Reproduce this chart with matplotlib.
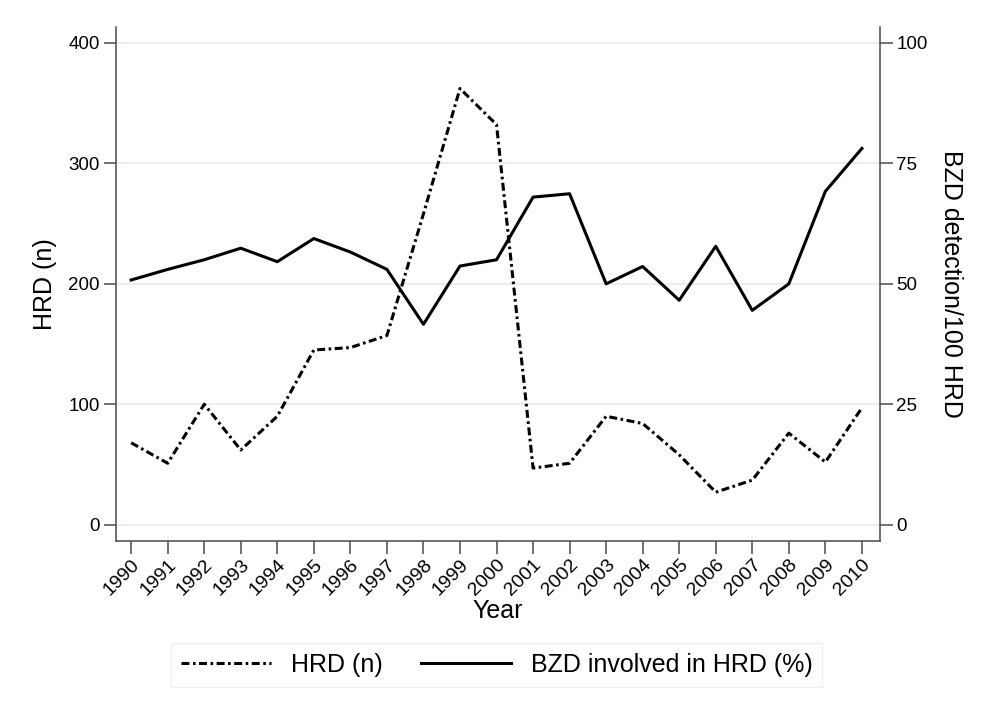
import matplotlib.pyplot as plt

plt.rcParams['font.family'] = ['Liberation Sans', 'DejaVu Sans']

years = list(range(1990, 2011))
hrd_n = [68, 51, 100, 62, 90, 145, 147, 157, 258, 362, 332, 47, 51, 90, 84, 58, 27, 37, 76, 52, 97]
bzd_pct = [50.8, 53.0, 55.0, 57.4, 54.6, 59.4, 56.6, 53.0, 41.6, 53.7, 55.0, 68.0, 68.7, 50.0, 53.6, 46.6, 57.8, 44.5, 50.0, 69.2, 78.1]

grid_c = '#e8eff2'
spine_c = '#4a4a4a'

fig = plt.figure(figsize=(9.93, 7.21), dpi=100)
ax = fig.add_axes([0.117, 0.25, 0.769, 0.7125])
ax2 = ax.twinx()

ln1, = ax.plot(years, hrd_n, color='black', lw=2.2, linestyle=(0, (2.6, 1.15, 0.85, 1.15)), label='HRD (n)')
ln2, = ax2.plot(years, bzd_pct, color='black', lw=2.2, linestyle='-', label='BZD involved in HRD (%)')

ax.set_xlim(1989.59, 2010.49)
ax.set_ylim(-13.3, 413)
ax2.set_ylim(-3.32, 103.3)
ax.set_yticks([0, 100, 200, 300, 400])
ax2.set_yticks([0, 25, 50, 75, 100])
ax.set_xticks(years)
ax.set_xticklabels([str(y) for y in years], rotation=45, ha='right', rotation_mode='anchor')

for y in [0, 100, 200, 300, 400]:
    ax.axhline(y, color=grid_c, lw=1.5, zorder=0)

for a in (ax, ax2):
    for s in a.spines.values():
        s.set_color(spine_c)
        s.set_linewidth(1.1)
    a.spines['top'].set_visible(False)
    a.tick_params(length=9, width=1.1, color=spine_c, labelsize=13.5, pad=3)
ax.tick_params(axis='x', labelsize=14, pad=2)
ax.spines['right'].set_visible(False)
ax2.spines['left'].set_visible(False)
ax2.spines['bottom'].set_visible(False)

ax.set_xlabel('Year', fontsize=18, labelpad=0)
ax.set_ylabel('HRD (n)', fontsize=18, labelpad=8)
ax2.set_ylabel('BZD detection/100 HRD', fontsize=18, rotation=270, labelpad=25)

fig.legend(handles=[ln1, ln2], loc='center', bbox_to_anchor=(0.5005, 0.0777), ncol=2,
           fontsize=18, frameon=True, fancybox=False, edgecolor='#e6edf0',
           handlelength=3.6, columnspacing=1.5, borderpad=0.4, handletextpad=0.8)

fig.savefig('out.png', dpi=100)
